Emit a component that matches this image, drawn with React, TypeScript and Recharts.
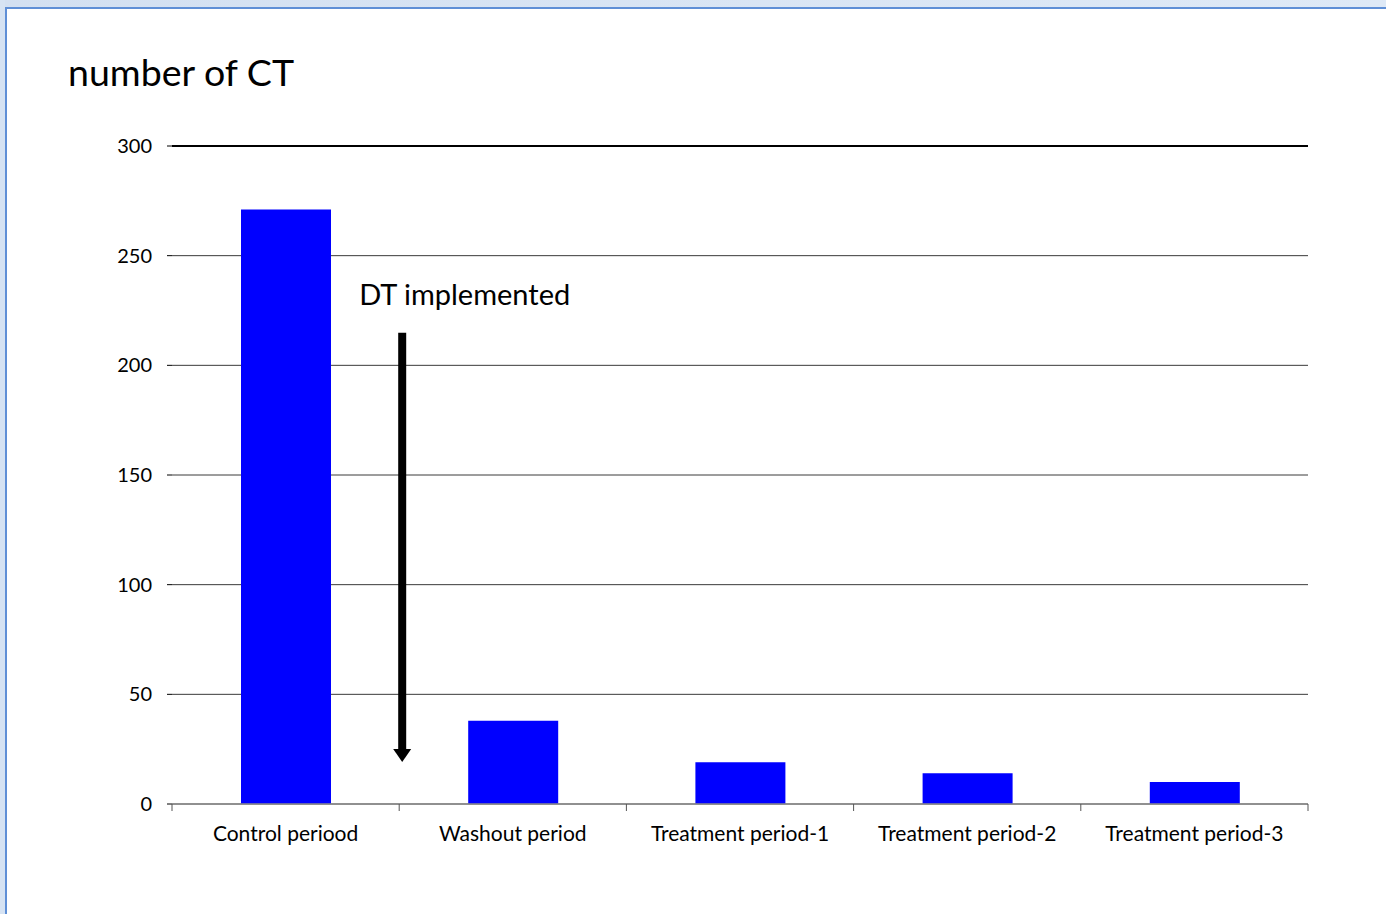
import React from 'react';
import {
  BarChart,
  Bar,
  XAxis,
  YAxis,
  CartesianGrid,
  ReferenceLine,
} from 'recharts';

const periods = ['Control periood', 'Washout period', 'Treatment period-1', 'Treatment period-2', 'Treatment period-3'];
const ctCounts = [271, 38, 19, 14, 10];
const yTicks = [0, 50, 100, 150, 200, 250, 300];
// arrow sits at the end of the control period, from ~215 down to ~19
const arrowAfter = 'Control periood';
const arrowFrom = 214.8;
const arrowTo = 19.2;

const data = periods.map((p, i) => ({ period: p, count: ctCounts[i] }));

const FONT = 'Lato, "Open Sans", sans-serif';

function Arrow(props: any) {
  const { x1, y1, x2, y2 } = props;
  const head = 13;
  const ax = x1 + 3;
  return (
    <g>
      <text x={ax - 43} y={y1 - 28} fontSize={29} fontFamily={FONT} fill="#000">
        DT implemented
      </text>
      <line x1={ax} y1={y1} x2={ax} y2={y2 - head + 2} stroke="#000" strokeWidth={8} />
      <polygon points={`${ax - 9},${y2 - head} ${ax + 9},${y2 - head} ${ax},${y2}`} fill="#000" />
    </g>
  );
}

// label centred in the band, tick marks on the band edges
function CategoryTick(props: any) {
  const { x, y, payload, index } = props;
  const half = payload && payload.offset ? payload.offset : 113.6;
  const last = index === periods.length - 1;
  return (
    <g>
      <line x1={x - half} y1={y} x2={x - half} y2={y + 7} stroke="#555" />
      {last && <line x1={x + half} y1={y} x2={x + half} y2={y + 7} stroke="#555" />}
      <text x={x} y={y + 37} textAnchor="middle" fontSize={21} fontFamily={FONT} fill="#000">
        {payload.value}
      </text>
    </g>
  );
}

export default function App() {
  return (
    <div style={{ position: 'fixed', top: 0, left: 0, width: 1386, height: 914, background: '#fff', overflow: 'hidden' }}>
      <div style={{ position: 'absolute', top: 0, left: 0, width: 1386, height: 8, background: 'linear-gradient(to right, #d3e0f1, #dee9f6)' }} />
      <div style={{ position: 'absolute', top: 0, left: 0, width: 5, height: 914, background: '#d6e3f3' }} />
      <div style={{ position: 'absolute', top: 7, left: 5, width: 1381, height: 2, background: '#5f8fd6' }} />
      <div style={{ position: 'absolute', top: 7, left: 5, width: 2, height: 907, background: '#5f8fd6' }} />
      <div style={{ position: 'absolute', top: 50, left: 68, fontFamily: FONT, fontSize: 37.5, color: '#000', lineHeight: '44px' }}>
        number of CT
      </div>
      <div style={{ position: 'absolute', top: 0, left: 0 }}>
        <BarChart width={1386} height={914} data={data} margin={{ top: 146, right: 78, bottom: 60, left: 112 }}>
          <CartesianGrid vertical={false} stroke="#3a3a3a" strokeWidth={1} />
          <XAxis
            dataKey="period"
            axisLine={{ stroke: '#8c8c8c', strokeWidth: 1.5 }}
            tickLine={false}
            tickSize={0}
            tickMargin={0}
            height={50}
            interval={0}
            tick={<CategoryTick />}
          />
          <YAxis
            domain={[0, 300]}
            ticks={yTicks}
            width={60}
            axisLine={false}
            tickLine={{ stroke: '#000' }}
            tickSize={5}
            tickMargin={15}
            tick={{ fontSize: 20, fill: '#000', fontFamily: FONT }}
          />
          <ReferenceLine y={300} stroke="#000" strokeWidth={2} />
          <Bar dataKey="count" fill="#0000ff" barSize={90} isAnimationActive={false} />
          <ReferenceLine
            position="end"
            segment={[{ x: arrowAfter, y: arrowFrom }, { x: arrowAfter, y: arrowTo }]}
            shape={Arrow}
            ifOverflow="visible"
          />
        </BarChart>
      </div>
    </div>
  );
}
